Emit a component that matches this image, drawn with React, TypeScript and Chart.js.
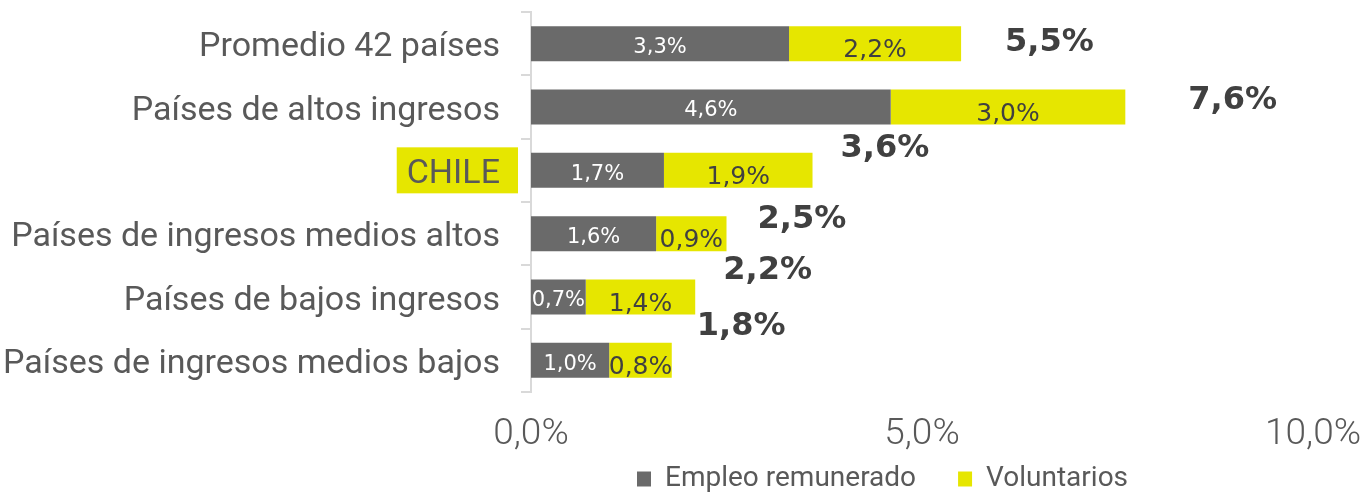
import React, { useEffect, useRef } from 'react';
import { Chart, registerables } from 'chart.js';

Chart.register(...registerables);

const categories = [
  'Promedio 42 países',
  'Países de altos ingresos',
  'CHILE',
  'Países de ingresos medios altos',
  'Países de bajos ingresos',
  'Países de ingresos medios bajos',
];
const empleoRemunerado = [3.3, 4.6, 1.7, 1.6, 0.7, 1.0];
const voluntarios = [2.2, 3.0, 1.9, 0.9, 1.4, 0.8];
const totales = [5.5, 7.6, 3.6, 2.5, 2.2, 1.8];
const seriesNames = ['Empleo remunerado', 'Voluntarios'];
const xTickValues = [0, 5, 10];
const highlightedCategory = 'CHILE';

// label offsets (style only): [dx from bar end, dy from bar centre]
const totalLabelOffsets = [
  [44, -1],
  [63, -6],
  [28, -22],
  [31, -14],
  [28, -26],
  [25, -34],
];

const GRAY = '#6a6a6a';
const YELLOW = '#e6e600';
const TEXT = '#595959';
const DARK = '#404040';
const LEGEND_LEFT = 637;
const LEGEND_CENTER_Y = 479;

const fmt = (v: number) => v.toFixed(1).replace('.', ',') + '%';

const Y_FONT = { family: 'Roboto', size: 34 };
const Y_TICK_LEN = 10;
const Y_TICK_PAD = 21;

const highlightPlugin = {
  id: 'highlightCat',
  beforeDraw(chart: any) {
    const y = chart.scales.y;
    const idx = categories.indexOf(highlightedCategory);
    if (idx < 0) return;
    const ctx = chart.ctx;
    const cy = y.getPixelForTick(idx);
    ctx.save();
    ctx.font = `${Y_FONT.size}px ${Y_FONT.family}`;
    const w = ctx.measureText(highlightedCategory).width;
    const right = y.right - Y_TICK_LEN - Y_TICK_PAD;
    ctx.fillStyle = YELLOW;
    ctx.fillRect(right - w - 10, cy - 23, w + 28, 46);
    ctx.restore();
  },
};

const legendPlacePlugin = {
  id: 'legendPlace',
  afterLayout(chart: any) {
    const lg = chart.legend;
    if (!lg) return;
    const p = lg.options.labels.padding;
    const fs = lg.options.labels.font.size;
    const w = lg.width;
    lg.left = LEGEND_LEFT - p;
    lg.right = lg.left + w;
    lg.top = LEGEND_CENTER_Y - p - fs / 2;
    lg.bottom = lg.top + lg.height;
  },
};

const valueLabelsPlugin = {
  id: 'valueLabels',
  afterDatasetsDraw(chart: any) {
    const ctx = chart.ctx;
    ctx.save();
    ctx.textAlign = 'center';
    ctx.textBaseline = 'middle';
    const m0 = chart.getDatasetMeta(0);
    const m1 = chart.getDatasetMeta(1);
    m0.data.forEach((bar: any, i: number) => {
      ctx.font = '21px "DejaVu Sans"';
      ctx.fillStyle = '#ffffff';
      ctx.fillText(fmt(empleoRemunerado[i]), (bar.base + bar.x) / 2, bar.y + 4);
    });
    m1.data.forEach((bar: any, i: number) => {
      ctx.font = '25px "DejaVu Sans"';
      ctx.fillStyle = DARK;
      ctx.fillText(fmt(voluntarios[i]), (bar.base + bar.x) / 2, bar.y + 7);
    });
    ctx.textAlign = 'left';
    ctx.font = 'bold 32px "DejaVu Sans"';
    ctx.fillStyle = DARK;
    m1.data.forEach((bar: any, i: number) => {
      const [dx, dy] = totalLabelOffsets[i];
      ctx.fillText(fmt(totales[i]), bar.x + dx, bar.y + dy);
    });
    ctx.restore();
  },
};

export default function App() {
  const ref = useRef<HTMLCanvasElement | null>(null);
  useEffect(() => {
    document.body.style.margin = '0';
    const canvas = ref.current!;
    const chart = new Chart(canvas, {
      type: 'bar',
      data: {
        labels: categories,
        datasets: [
          {
            label: seriesNames[0],
            data: empleoRemunerado,
            backgroundColor: GRAY,
            barPercentage: 0.553,
            categoryPercentage: 1,
          },
          {
            label: seriesNames[1],
            data: voluntarios,
            backgroundColor: YELLOW,
            barPercentage: 0.553,
            categoryPercentage: 1,
          },
        ],
      },
      options: {
        indexAxis: 'y',
        animation: false,
        responsive: false,
        layout: { padding: { top: 12, right: 48, bottom: -50, left: 0 } },
        scales: {
          x: {
            stacked: true,
            min: 0,
            max: 10,
            afterBuildTicks: (s: any) => {
              s.ticks = xTickValues.map((v) => ({ value: v }));
            },
            grid: { display: false },
            border: { display: false },
            ticks: {
              padding: 13,
              color: TEXT,
              font: { family: 'Roboto', size: 37, weight: '300' },
              callback: (v: any) => fmt(Number(v)),
              maxRotation: 0,
            },
            afterFit: (s: any) => {
              s.height = 70;
              s.paddingLeft = 0;
              s.paddingRight = 0;
            },
          },
          y: {
            stacked: true,
            grid: {
              offset: true,
              drawOnChartArea: false,
              tickLength: Y_TICK_LEN,
              color: '#d9d9d9',
              lineWidth: 2,
            },
            border: { color: '#d9d9d9', width: 2 },
            ticks: {
              padding: Y_TICK_PAD,
              color: TEXT,
              font: Y_FONT,
              autoSkip: false,
              labelOffset: 4,
            },
            afterFit: (s: any) => {
              s.width = 531;
              s.paddingTop = 0;
              s.paddingBottom = 0;
            },
          },
        },
        plugins: {
          legend: {
            position: 'bottom',
            align: 'start',
            labels: {
              boxWidth: 14,
              boxHeight: 15,
              padding: 42,
              color: TEXT,
              font: { family: 'Roboto', size: 28 },
            },
          },
          tooltip: { enabled: false },
        },
      },
      plugins: [highlightPlugin, legendPlacePlugin, valueLabelsPlugin],
    });
    return () => chart.destroy();
  }, []);
  return <canvas ref={ref} width={1361} height={492} style={{ display: 'block' }} />;
}
